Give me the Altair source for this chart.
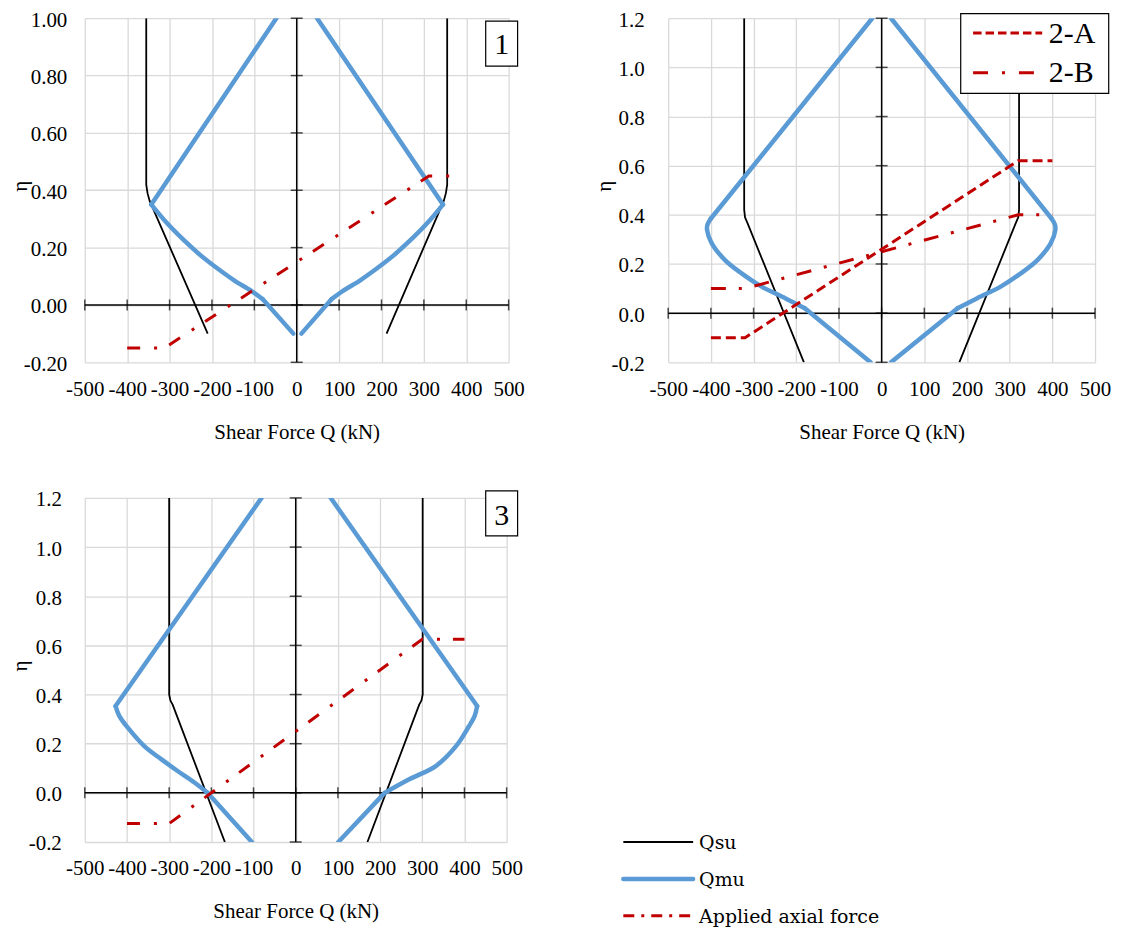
import altair as alt
import pandas as pd

FONT = "Liberation Serif"
LEG_FONT = "DejaVu Serif"
BLUE = "#5B9BD5"
RED = "#C00000"
GRID = "#D9D9D9"

X_TICKS = [-500, -400, -300, -200, -100, 0, 100, 200, 300, 400, 500]
Y_TICKS_1 = [-0.2, 0.0, 0.2, 0.4, 0.6, 0.8, 1.0]
Y_TICKS_23 = [-0.2, 0.0, 0.2, 0.4, 0.6, 0.8, 1.0, 1.2]
X_TITLE = "Shear Force Q (kN)"
Y_TITLE = "η"

# ---------------- Panel 1 ----------------
P1_QSU_L_Q = [-355, -355, -352, -347, -210]
P1_QSU_L_E = [1.00, 0.42, 0.39, 0.363, -0.10]
P1_QSU_R_Q = [355, 355, 352, 347, 212]
P1_QSU_R_E = [1.00, 0.42, 0.39, 0.363, -0.10]
P1_QMU_L_Q = [-48, -343, -304, -265, -226, -186, -147, -108, -80, -8]
P1_QMU_L_E = [1.00, 0.35, 0.282, 0.224, 0.172, 0.126, 0.085, 0.050, 0.020, -0.10]
P1_QMU_R_Q = [48, 345, 306, 267, 228, 188, 149, 110, 82, 11]
P1_QMU_R_E = [1.00, 0.35, 0.282, 0.224, 0.172, 0.126, 0.085, 0.050, 0.020, -0.10]
P1_AX_Q = [-400, -312, 312, 380]
P1_AX_E = [-0.15, -0.15, 0.45, 0.45]
P1_LABEL = ["1"]

# ---------------- Panel 2 ----------------
P2_QSU_L_Q = [-322, -322, -320, -314, -182]
P2_QSU_L_E = [1.2, 0.42, 0.39, 0.365, -0.2]
P2_QSU_R_Q = [322, 322, 320, 314, 182]
P2_QSU_R_E = [1.2, 0.42, 0.39, 0.365, -0.2]
P2_QMU_L_Q = [-22, -400, -408, -409, -398, -367, -328, -281, -226, -180, -26]
P2_QMU_L_E = [1.2, 0.385, 0.36, 0.338, 0.284, 0.216, 0.162, 0.108, 0.061, 0.02, -0.2]
P2_QMU_R_Q = [22, 398, 406, 407, 396, 365, 326, 279, 224, 178, 22]
P2_QMU_R_E = [1.2, 0.385, 0.36, 0.338, 0.284, 0.216, 0.162, 0.108, 0.061, 0.02, -0.2]
P2_AXA_Q = [-400, -320, 320, 400]
P2_AXA_E = [-0.10, -0.10, 0.62, 0.62]
P2_AXB_Q = [-400, -320, 320, 400]
P2_AXB_E = [0.10, 0.10, 0.40, 0.40]
P2_LEGEND = ["2-A", "2-B"]

# ---------------- Panel 3 ----------------
P3_QSU_L_Q = [-300, -300, -297, -292, -168]
P3_QSU_L_E = [1.2, 0.40, 0.375, 0.36, -0.2]
P3_QSU_R_Q = [301, 301, 298, 293, 170]
P3_QSU_R_E = [1.2, 0.40, 0.375, 0.36, -0.2]
P3_QMU_L_Q = [-81, -427, -418, -398, -359, -319, -280, -240, -209, -104]
P3_QMU_L_E = [1.2, 0.353, 0.312, 0.265, 0.19, 0.137, 0.089, 0.042, 0.0, -0.2]
P3_QMU_R_Q = [83, 430, 424, 411, 380, 332, 269, 211, 101]
P3_QMU_R_E = [1.2, 0.353, 0.312, 0.272, 0.19, 0.109, 0.055, 0.0, -0.2]
P3_AX_Q = [-400, -300, 300, 400]
P3_AX_E = [-0.125, -0.125, 0.625, 0.625]
P3_LABEL = ["3"]

LEG_LABELS = ["Qsu", "Qmu", "Applied axial force"]


def path_df(*parts):
    rows = []
    for name, qs, es in parts:
        for i, (q, e) in enumerate(zip(qs, es)):
            rows.append({"part": name, "idx": i, "q": q, "eta": e})
    return pd.DataFrame(rows)


def qmu_df(side_paths):
    """Split each Qmu path into straight top, curved middle and straight bottom pieces."""
    parts = []
    for name, qs, es in side_paths:
        n = len(qs)
        parts.append((name + "top", qs[0:2], es[0:2]))
        parts.append((name + "mid", qs[1:n - 1], es[1:n - 1]))
        parts.append((name + "bot", qs[n - 2:n], es[n - 2:n]))
    return path_df(*parts)


def panel(width, ymax, yticks, yfmt, label_pad, title_x, qsu, qmu, axials, extras):
    xs = alt.Scale(domain=[-500, 500], nice=False, zero=False)
    ys = alt.Scale(domain=[-0.2, ymax], nice=False, zero=False)
    x_axis = alt.Axis(
        values=X_TICKS,
        labelExpr="(datum.value < 0 ? '-' : '') + format(abs(datum.value), 'd')",
        title=X_TITLE, grid=True, domain=False, ticks=False,
        labelFlush=False, labelOverlap=False, labelPadding=33,
        labelBaseline="alphabetic", titleX=width / 2, titleY=76,
        titleBaseline="alphabetic", titleAlign="center",
    )
    y_axis = alt.Axis(
        values=yticks,
        labelExpr="(datum.value < 0 ? '-' : '') + format(abs(datum.value), '" + yfmt + "')",
        title=Y_TITLE, grid=True, domain=False, ticks=False,
        labelFlush=False, labelOverlap=False, labelPadding=label_pad,
        labelBaseline="alphabetic", labelOffset=8,
        titleX=title_x, titleY=168, titleBaseline="alphabetic", titleAlign="center",
    )

    def X(f):
        return alt.X(f, scale=xs, axis=x_axis)

    def Y(f):
        return alt.Y(f, scale=ys, axis=y_axis)

    vaxis = alt.Chart(pd.DataFrame({"q": [0], "e1": [-0.2], "e2": [ymax]})).mark_rule(
        color="black", strokeWidth=1.5
    ).encode(x=X("q:Q"), y=Y("e1:Q"), y2="e2:Q")
    haxis = alt.Chart(pd.DataFrame({"q1": [-500], "q2": [500], "e": [0]})).mark_rule(
        color="black", strokeWidth=1.5
    ).encode(x=X("q1:Q"), x2="q2:Q", y=Y("e:Q"))
    ytk = alt.Chart(pd.DataFrame({"e": yticks, "q": [0] * len(yticks)})).mark_tick(
        orient="horizontal", size=12, thickness=1.5, color="black"
    ).encode(x=X("q:Q"), y=Y("e:Q"))
    xtk = alt.Chart(pd.DataFrame({"q": X_TICKS, "e": [0] * len(X_TICKS)})).mark_tick(
        orient="vertical", size=11, thickness=1.5, color="black"
    ).encode(x=X("q:Q"), y=Y("e:Q"))

    def line(df, **mk):
        return alt.Chart(df).mark_line(clip=True, **mk).encode(
            x=X("q:Q"), y=Y("eta:Q"), detail="part:N", order="idx:Q",
        )

    layers = [vaxis, haxis, ytk, xtk,
              line(qsu, color="black", strokeWidth=1.8, strokeJoin="round"),
              line(qmu, color=BLUE, strokeWidth=4.5, strokeJoin="round",
                   strokeCap="round", interpolate="catmull-rom")]
    for df, dash in axials:
        layers.append(line(df, color=RED, strokeWidth=3, strokeDash=dash))
    layers.extend(extras)
    return alt.layer(*layers).properties(width=width, height=345)


def label_box(lbl, x1, x2, y1, y2, base):
    df = pd.DataFrame({"label": lbl})
    rect = alt.Chart(df).mark_rect(fill="white", stroke="black", strokeWidth=1.2).encode(
        x=alt.value(x1), x2=alt.value(x2), y=alt.value(y1), y2=alt.value(y2)
    )
    txt = alt.Chart(df).mark_text(font=FONT, fontSize=30, align="center",
                                  baseline="alphabetic", color="black").encode(
        x=alt.value((x1 + x2) / 2), y=alt.value(base), text="label:N"
    )
    return [rect, txt]


# invisible anchor that fixes the top-left corner of the layout bounds
anchor = alt.Chart(pd.DataFrame({"label": P1_LABEL})).mark_rect(opacity=0).encode(
    x=alt.value(-100), x2=alt.value(-99), y=alt.value(-30), y2=alt.value(-29)
)

p1 = panel(
    425, 1.0, Y_TICKS_1, ".2f", 18, -58,
    path_df(("L", P1_QSU_L_Q, P1_QSU_L_E), ("R", P1_QSU_R_Q, P1_QSU_R_E)),
    qmu_df([("L", P1_QMU_L_Q, P1_QMU_L_E), ("R", P1_QMU_R_Q, P1_QMU_R_E)]),
    [(path_df(("A", P1_AX_Q, P1_AX_E)), [13, 14, 3, 13])],
    label_box(P1_LABEL, 402, 434, 3, 48, 36.3) + [anchor],
)

# legend inside panel 2
p2_leg_df = pd.DataFrame({"label": P2_LEGEND})
p2_box = alt.Chart(p2_leg_df.head(1)).mark_rect(fill="white", stroke="black", strokeWidth=1.2).encode(
    x=alt.value(293.3), x2=alt.value(441.7), y=alt.value(-4.7), y2=alt.value(75.3)
)
p2_la = alt.Chart(p2_leg_df.head(1)).mark_rule(color=RED, strokeWidth=3, strokeDash=[8.5, 4]).encode(
    x=alt.value(305.7), x2=alt.value(375), y=alt.value(14.7)
)
p2_lb = alt.Chart(p2_leg_df.tail(1)).mark_rule(color=RED, strokeWidth=3, strokeDash=[15, 14, 3, 14]).encode(
    x=alt.value(305.7), x2=alt.value(375), y=alt.value(54.7)
)
p2_ta = alt.Chart(p2_leg_df.head(1)).mark_text(font=FONT, fontSize=30, align="left",
                                               baseline="alphabetic", color="black").encode(
    x=alt.value(381.7), y=alt.value(24.7), text="label:N"
)
p2_tb = alt.Chart(p2_leg_df.tail(1)).mark_text(font=FONT, fontSize=30, align="left",
                                               baseline="alphabetic", color="black").encode(
    x=alt.value(381.7), y=alt.value(64), text="label:N"
)

p2 = panel(
    428, 1.2, Y_TICKS_23, ".1f", 24, -57.5,
    path_df(("L", P2_QSU_L_Q, P2_QSU_L_E), ("R", P2_QSU_R_Q, P2_QSU_R_E)),
    qmu_df([("L", P2_QMU_L_Q, P2_QMU_L_E), ("R", P2_QMU_R_Q, P2_QMU_R_E)]),
    [(path_df(("A", P2_AXA_Q, P2_AXA_E)), [10, 5]),
     (path_df(("B", P2_AXB_Q, P2_AXB_E)), [15, 13, 3, 13])],
    [p2_box, p2_la, p2_lb, p2_ta, p2_tb],
)

p3 = panel(
    423, 1.2, Y_TICKS_23, ".1f", 23.5, -58,
    path_df(("L", P3_QSU_L_Q, P3_QSU_L_E), ("R", P3_QSU_R_Q, P3_QSU_R_E)),
    qmu_df([("L", P3_QMU_L_Q, P3_QMU_L_E), ("R", P3_QMU_R_Q, P3_QMU_R_E)]),
    [(path_df(("A", P3_AX_Q, P3_AX_E)), [13, 14, 3, 13])],
    label_box(P3_LABEL, 402, 434, -7, 38, 27.3),
)

# bottom-right legend
leg_df = pd.DataFrame({"label": LEG_LABELS})
ly = alt.Y("label:N", scale=alt.Scale(type="point", domain=LEG_LABELS, range=[345, 419], padding=0), axis=None)
leg_styles = [
    dict(color="black", strokeWidth=1.8),
    dict(color=BLUE, strokeWidth=4.5, strokeCap="round"),
    dict(color=RED, strokeWidth=3, strokeDash=[11, 7, 3, 7]),
]
leg_layers = []
for lab, sty in zip(LEG_LABELS, leg_styles):
    leg_layers.append(
        alt.Chart(leg_df).transform_filter(alt.datum.label == lab).mark_rule(**sty).encode(
            x=alt.value(-45), x2=alt.value(25), y=ly
        )
    )
leg_layers.append(
    alt.Chart(leg_df).mark_text(font=LEG_FONT, fontSize=19, align="left", baseline="alphabetic",
                                dy=7.5, color="black").encode(
        x=alt.value(31), y=ly, text="label:N"
    )
)
legend = alt.layer(*leg_layers).properties(width=300, height=345)

chart = alt.concat(
    p1, p2, p3, legend, columns=2, spacing={"row": 136, "column": 160},
    bounds="flush", align="each",
).properties(
    padding={"left": -23, "top": -21, "right": 2, "bottom": 3}
).configure_view(stroke=None).configure_axis(
    labelFont=FONT, labelFontSize=21, labelColor="black",
    titleFont=FONT, titleFontSize=21, titleFontWeight="normal", titleColor="black",
    gridColor=GRID, gridWidth=1.3, gridOpacity=1,
)

chart.save("out.html", embed_options={"renderer": "svg", "actions": False})
